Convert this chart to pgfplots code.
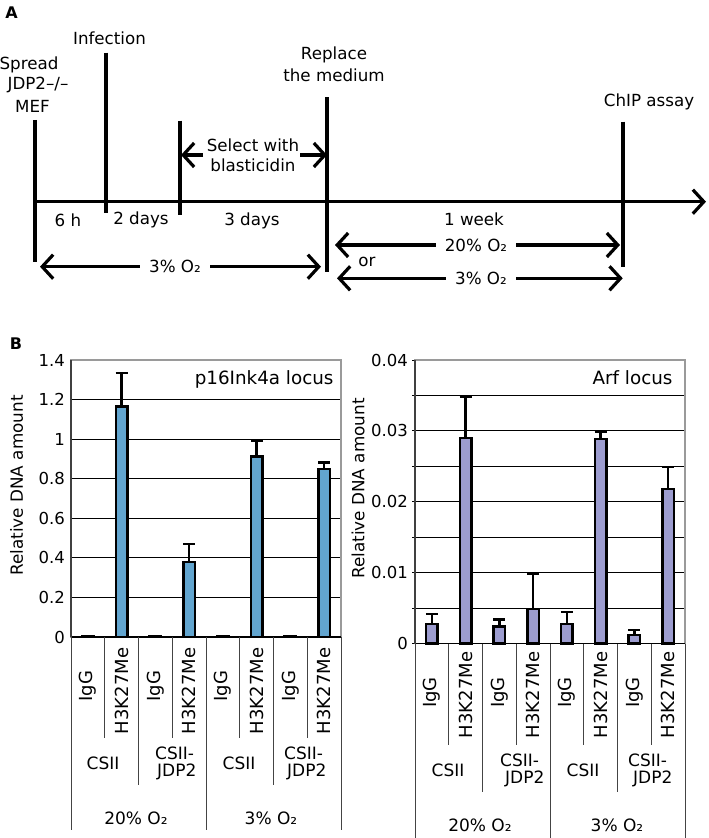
\documentclass[border=0pt]{standalone}
\usepackage{fontspec}
\setmainfont{DejaVu Sans}
\usepackage{pgfplots}
\pgfplotsset{compat=1.18}
\usetikzlibrary{arrows.meta}
\newcommand\fsz[1]{\fontsize{#1}{#1}\selectfont}
\definecolor{barblue}{HTML}{62A5CF}
\definecolor{barlav}{HTML}{9C9CCF}
\definecolor{framegray}{HTML}{9A9A9A}
\definecolor{tabline}{HTML}{444444}
\begin{document}
\begin{tikzpicture}[x=1pt,y=1pt]
\path[use as bounding box] (0,0) rectangle (709,838);
% ---------------- Panel A ----------------
\begin{scope}[line width=3.2pt, font=\fsz{16.7}]
\node[font=\fsz{16}\bfseries] at (11.5,825) {A};
\draw[-{Straight Barb[length=11pt,width=24pt]}] (35,636.3) -- (706,636.3);
\draw (35,718) -- (35,576.3);
\draw (106,785.3) -- (106,624.7);
\draw (180,717.3) -- (180,623);
\draw (327,740.7) -- (327,566.3);
\draw (623,716.3) -- (623,571.3);
\node at (29,773) {Spread};
\node at (38,753) {JDP2–/–};
\node at (32.5,732) {MEF};
\node at (109.5,799.7) {Infection};
\node at (334,783) {Replace};
\node at (334,763) {the medium};
\node at (649,736.3) {ChIP assay};
\node at (253,692.3) {Select with};
\node at (253,672.3) {blasticidin};
\draw[-{Straight Barb[length=11pt,width=24pt]}] (203,683) -- (181,683);
\draw[-{Straight Barb[length=11pt,width=24pt]}] (300,683) -- (327,683);
\node at (68,618) {6 h};
\node at (141,618) {2 days};
\node at (252,617) {3 days};
\node at (474,618.7) {1 week};
\draw[{Straight Barb[length=11pt,width=24pt]}-{Straight Barb[length=11pt,width=24pt]}] (335,593) -- (620,593);
\node[fill=white, inner xsep=9pt, inner ysep=0pt] at (476,593) {20\% O₂};
\node at (367,576.3) {or};
\draw[{Straight Barb[length=11pt,width=24pt]}-{Straight Barb[length=11pt,width=24pt]}] (337,559.7) -- (622.7,559.7);
\node[fill=white, inner xsep=9pt, inner ysep=0pt] at (481,559.7) {3\% O₂};
\draw[{Straight Barb[length=11pt,width=24pt]}-{Straight Barb[length=11pt,width=24pt]}] (40,571.3) -- (321,571.3);
\node[fill=white, inner xsep=9pt, inner ysep=0pt] at (175,571.3) {3\% O₂};
\end{scope}
% ---------------- Panel B ----------------
\node[font=\fsz{16}\bfseries] at (16,494) {B};
\pgfplotsset{
  barstyle/.style={draw=black, line width=2.3pt,
    error bars/.cd, y dir=plus, y explicit,
    error bar style={line width=2.3pt, black, solid},
    error mark options={black, line width=2.3pt, mark size=6pt, rotate=90}},
}
\begin{axis}[at={(71pt,201pt)}, anchor=south west, scale only axis,
  width=270pt, height=277pt,
  xmin=0.5, xmax=8.5, ymin=0, ymax=1.4,
  xtick=\empty,
  ytick={0,0.2,0.4,0.6,0.8,1,1.2,1.4},
  yticklabels={0,0.2,0.4,0.6,0.8,1,1.2,1.4},
  ymajorgrids, major grid style={black, line width=0.8pt},
  axis line style={framegray, line width=1.6pt},
  major tick length=0pt,
  yticklabel style={font=\fsz{16.5}, inner sep=0pt, xshift=-6pt},
  every axis plot/.append style={line width=2.3pt},
  ybar, bar width=11.5pt, clip=false]
\draw[black, line width=1.8pt] (rel axis cs:0,0) -- (rel axis cs:1,0);
\addplot[fill=barblue, barstyle] table[x=x, y=y, y error=e] {
x y e
1 0.003 0
2 1.165 0.17
3 0.003 0
4 0.378 0.092
5 0.003 0
6 0.912 0.081
7 0.003 0
8 0.849 0.033
};
\draw[black!75, line width=1.6pt] (rel axis cs:0,0) -- (rel axis cs:0,1);
\end{axis}
\begin{axis}[at={(415pt,194.4pt)}, anchor=south west, scale only axis,
  width=270pt, height=283.6pt,
  xmin=0.5, xmax=8.5, ymin=0, ymax=0.04,
  xtick=\empty, scaled y ticks=false,
  ytick={0,0.01,0.02,0.03,0.04},
  yticklabels={0,0.01,0.02,0.03,0.04},
  minor ytick={0.005,0.015,0.025,0.035},
  ymajorgrids, yminorgrids,
  major grid style={black, line width=0.8pt},
  minor grid style={black, line width=0.8pt},
  axis line style={framegray, line width=1.6pt},
  ytick pos=left, tick align=center,
  major tick length=6pt, minor tick length=6pt,
  tick style={black, line width=0.8pt},
  yticklabel style={font=\fsz{16.5}, inner sep=0pt, xshift=-4pt},
  every axis plot/.append style={line width=2.3pt},
  ybar, bar width=11.5pt, clip=false]
\draw[black, line width=1.8pt] (rel axis cs:0,0) -- (rel axis cs:1,0);
\addplot[fill=barlav, barstyle] table[x=x, y=y, y error=e] {
x y e
1 0.0028 0.0014
2 0.0290 0.0058
3 0.0024 0.0010
4 0.0049 0.0049
5 0.0028 0.0017
6 0.0289 0.0009
7 0.0012 0.0007
8 0.0218 0.0031
};
\draw[black!75, line width=1.6pt] (rel axis cs:0,0) -- (rel axis cs:0,1);
\end{axis}
% y labels and titles
\node[rotate=90, font=\fsz{16.8}] at (16.5,352.5) {Relative DNA amount};
\node[rotate=90, font=\fsz{16.8}] at (358,349.5) {Relative DNA amount};
\node[anchor=base east, font=\fsz{18.3}] at (337,453.7) {p16Ink4a locus};
\node[anchor=base east, font=\fsz{18.3}] at (676,453.7) {Arf locus};
% category table lines
\begin{scope}[tabline, line width=1pt]
\foreach \k in {1,3,5,7} {
  \draw ({71+33.75*\k},201) -- ({71+33.75*\k},100);
  \draw ({415+33.75*\k},194.4) -- ({415+33.75*\k},93);
}
\foreach \k in {2,6} {
  \draw ({71+33.75*\k},201) -- ({71+33.75*\k},53);
  \draw ({415+33.75*\k},194.4) -- ({415+33.75*\k},46);
}
\foreach \k in {0,4,8} {
  \draw ({71+33.75*\k},201) -- ({71+33.75*\k},8);
  \draw ({415+33.75*\k},194.4) -- ({415+33.75*\k},0);
}
\end{scope}
% category labels
\begin{scope}[font=\fsz{18}]
\foreach \i in {1,3,5,7} {
  \node[rotate=90] at ({71+33.75*(\i-0.5)},152) {IgG};
  \node[rotate=90] at ({415+33.75*(\i-0.5)},145.5) {IgG};
}
\foreach \i in {2,4,6,8} {
  \node[rotate=90] at ({71+33.75*(\i-0.5)},147) {H3K27Me};
  \node[rotate=90] at ({415+33.75*(\i-0.5)},143) {H3K27Me};
}
\end{scope}
\begin{scope}[font=\fsz{17}]
\node at (103,75) {CSII};
\node at (239,75) {CSII};
\node at (448,68) {CSII};
\node at (583,68) {CSII};
\node[anchor=west, inner sep=0pt] at (155,85) {CSII-};
\node[anchor=west, inner sep=0pt] at (157,66) {JDP2};
\node[anchor=west, inner sep=0pt] at (284,85) {CSII-};
\node[anchor=west, inner sep=0pt] at (287,66) {JDP2};
\node[anchor=west, inner sep=0pt] at (500,78) {CSII-};
\node[anchor=west, inner sep=0pt] at (505,59) {JDP2};
\node[anchor=west, inner sep=0pt] at (628,78) {CSII-};
\node[anchor=west, inner sep=0pt] at (633,59) {JDP2};
\node at (136,19.7) {20\% O₂};
\node at (271,19.7) {3\% O₂};
\node at (480,13) {20\% O₂};
\node at (617,13) {3\% O₂};
\end{scope}
\end{tikzpicture}
\end{document}
